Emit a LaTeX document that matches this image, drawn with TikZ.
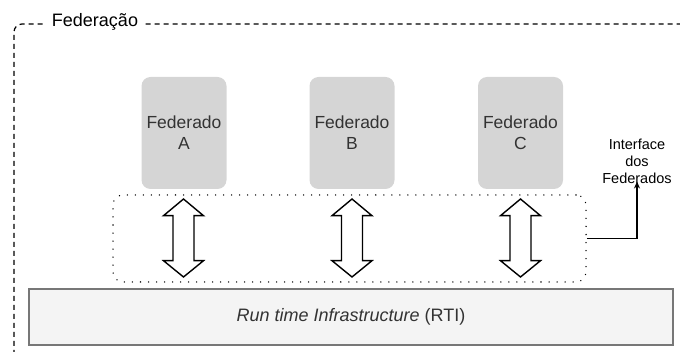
\documentclass[tikz,border=0pt]{standalone}
\usepackage{fontspec}
\setmainfont{Liberation Sans}
\usetikzlibrary{arrows.meta}
\definecolor{fedfill}{HTML}{D5D5D5}
\definecolor{rtifill}{HTML}{F4F4F4}
\definecolor{rtiline}{HTML}{777777}
\definecolor{txt}{HTML}{333333}
\tikzset{
  fedbox/.style={fill=fedfill, draw=none, rounded corners=9pt, minimum width=85pt, minimum height=112pt, align=center, text=txt, font=\fontsize{17.5}{21}\selectfont, inner sep=0pt},
  dblarrow/.style={draw=black, fill=white, line width=1.4pt, line join=miter},
  framestyle/.style={line width=1.2pt, dash pattern=on 5pt off 4pt},
  dotbox/.style={draw=black, line width=1.5pt, dash pattern=on 0.01pt off 8pt, line cap=round, rounded corners=10pt, minimum width=473pt, minimum height=87pt, inner sep=0pt},
  rtibox/.style={draw=rtiline, fill=rtifill, line width=1.6pt, minimum width=644pt, minimum height=56pt, text=txt, font=\fontsize{18}{21}\selectfont},
  lbltext/.style={align=center, font=\fontsize{14.5}{17}\selectfont, inner sep=0pt}
}
\begin{document}
\begin{tikzpicture}[x=1pt,y=-1pt]
\useasboundingbox (0,0) rectangle (680,352);
% outer dashed frame
\draw[framestyle, rounded corners=8pt] (14,400) -- (14,24) -- (720,24);
\node[fill=white, inner xsep=7pt, inner ysep=3pt, font=\fontsize{18}{21}\selectfont] (fedlabel) at (95,22) {Federação};
% federates
\node[fedbox] (fa) at (184,133) {Federado\\A};
\node[fedbox] (fb) at (352,133) {Federado\\B};
\node[fedbox] (fc) at (520.5,133) {Federado\\C};
% dotted interface box
\node[dotbox] (iface) at (349.5,238.5) {};
% double arrows
\foreach \x/\n in {183.5/a,352/b,520.5/c}{
  \draw[dblarrow] (\x,199) -- (\x+20,215.7) -- (\x+10.5,215.7) -- (\x+10.5,260.7) -- (\x+20,260.7) -- (\x,277) -- (\x-20,260.7) -- (\x-10.5,260.7) -- (\x-10.5,215.7) -- (\x-20,215.7) -- cycle;
}
% RTI
\node[rtibox] (rti) at (351,317) {\textit{Run time Infrastructure} (RTI)};
% interface label
\node[lbltext] (lbl) at (637,161) {Interface\\dos\\Federados};
\draw[line width=1.2pt, -{Stealth[length=7pt,width=6pt]}] (iface.east) -| ([yshift=2pt]lbl.south);
\end{tikzpicture}
\end{document}
